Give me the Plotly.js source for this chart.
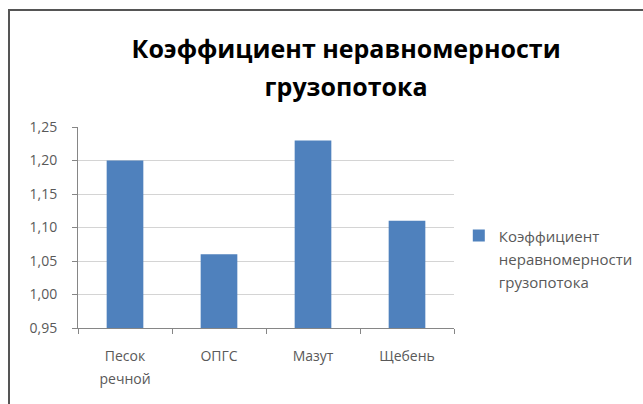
<!DOCTYPE html>
<html>
<head>
<meta charset="utf-8">
<script src="https://cdn.plot.ly/plotly-3.0.1.min.js"></script>
<style>
html,body{margin:0;padding:0;background:#fff;width:643px;height:404px;overflow:hidden;}
#frame{position:absolute;left:8px;top:9px;width:635px;height:395px;border-left:2px solid #555;border-top:2px solid #555;}
#chart{width:633px;height:393px;}
</style>
</head>
<body>
<div id="frame"><div id="chart"></div></div>
<script>
const categories = ['Песок речной', 'ОПГС', 'Мазут', 'Щебень'];
const categoryLines = [['Песок', 'речной'], ['ОПГС'], ['Мазут'], ['Щебень']];
const values = [1.20, 1.06, 1.23, 1.11];
const seriesLines = ['Коэффициент', 'неравномерности', 'грузопотока'];
const titleLines = ['Коэффициент неравномерности', 'грузопотока'];
const yTicks = [0.95, 1.00, 1.05, 1.10, 1.15, 1.20, 1.25];

const font = 'Open Sans, Noto Sans, sans-serif';
// wrap each line in a span of the real size; the outer font size sets the line spacing
const styled = (lines, px) => lines.map(s => '<span style="font-size:' + px + 'px">' + s + '</span>').join('<br>');

Plotly.newPlot('chart', [{
  type: 'bar',
  x: categories,
  y: values,
  name: styled(seriesLines, 15),
  marker: {color: '#4F81BD'},
  showlegend: true
}], {
  width: 633, height: 393,
  separators: ', ',
  paper_bgcolor: '#fff',
  plot_bgcolor: '#fff',
  margin: {l: 68, r: 189, t: 116, b: 76},
  bargap: 0.61,
  font: {family: font, color: '#595959', size: 12},
  title: {
    text: styled(titleLines, 25),
    font: {family: font, size: 29, color: '#000', weight: 'bold'},
    x: 0.531, xanchor: 'center', xref: 'container',
    y: 0.88, yanchor: 'top', yref: 'container'
  },
  xaxis: {
    type: 'category',
    tickvals: categories,
    ticktext: categoryLines.map(l => styled(l, 14)),
    showline: true, linecolor: '#868686', linewidth: 1,
    ticks: 'outside', tickson: 'boundaries', ticklen: 5, tickcolor: '#868686',
    tickfont: {size: 17, color: '#595959'},
    ticklabelstandoff: 12,
    showgrid: false, fixedrange: true
  },
  yaxis: {
    range: [0.95, 1.25],
    tickvals: yTicks,
    tickformat: '.2f',
    showline: true, linecolor: '#868686', linewidth: 1,
    ticks: 'outside', ticklen: 5, tickcolor: '#868686',
    ticklabelstandoff: 12,
    gridcolor: '#d4d4d4', gridwidth: 1,
    zeroline: false,
    tickfont: {size: 14, color: '#595959'},
    fixedrange: true
  },
  legend: {
    xref: 'container', yref: 'container',
    x: 0.709, xanchor: 'left',
    y: 0.37, yanchor: 'middle',
    valign: 'top',
    font: {size: 17.5, color: '#595959'},
    itemwidth: 30,
    bgcolor: 'rgba(0,0,0,0)'
  }
}, {displayModeBar: false, staticPlot: true});
</script>
</body>
</html>
